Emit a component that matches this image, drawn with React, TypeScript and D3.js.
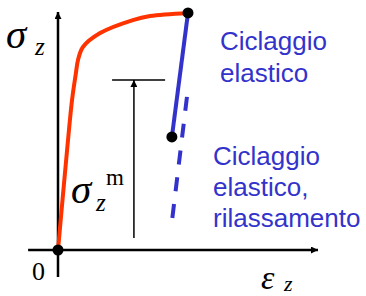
import { curveCatmullRom, line, scaleLinear, select } from 'd3';
import React, { useEffect, useRef } from 'react';

// strain (x) / stress (y) values
const loadStrain = [0, 0.35, 0.54, 0.69, 0.77, 0.96, 1.62, 2.88, 3.54, 5.0];
const loadStress = [0, 41.7, 62.5, 73.8, 79.2, 84.6, 90.4, 95.8, 97.5, 98.8];

const unloadStrain = [5.0, 4.38];
const unloadStress = [98.8, 47.1];

const relaxStrain = [4.96, 4.38];
const relaxStress = [63.8, 11.7];

const meanStress = 70.8;
const meanBar = [2.08, 4.12];
const meanArrowX = 2.92;
const meanArrowBottom = 5.0;

const xAxisExtent = [-1.15, 10];
const yAxisExtent = [-11.2, 99.2];

const label1 = ['Ciclaggio', 'elastico'];
const label2 = ['Ciclaggio', 'elastico,', 'rilassamento'];

const RED = '#ff3300';
const BLUE = '#3333cc';

const App: React.FC = () => {
  const svgRef = useRef<SVGSVGElement>(null);

  useEffect(() => {
    const svg = select(svgRef.current);
    svg.selectAll('*').remove();

    const x = scaleLinear().domain([0, 10]).range([58, 318]);
    const y = scaleLinear().domain([0, 100]).range([250, 10]);

    const zip = (xs: number[], ys: number[]) => xs.map((v, i) => [v, ys[i]] as [number, number]);
    const path = line<[number, number]>()
      .x((d) => x(d[0]))
      .y((d) => y(d[1]));

    // arrow marker
    svg
      .append('defs')
      .append('marker')
      .attr('id', 'arr')
      .attr('viewBox', '0 0 10 10')
      .attr('refX', 10)
      .attr('refY', 5)
      .attr('markerUnits', 'userSpaceOnUse')
      .attr('markerWidth', 9)
      .attr('markerHeight', 7)
      .attr('orient', 'auto')
      .append('path')
      .attr('d', 'M0,0L10,5L0,10z')
      .attr('fill', 'black');

    // axes
    svg
      .append('line')
      .attr('x1', x(xAxisExtent[0]))
      .attr('x2', x(xAxisExtent[1]))
      .attr('y1', y(0))
      .attr('y2', y(0))
      .attr('stroke', 'black')
      .attr('stroke-width', 2.5)
      .attr('marker-end', 'url(#arr)');
    svg
      .append('line')
      .attr('x1', x(0))
      .attr('x2', x(0))
      .attr('y1', y(yAxisExtent[0]))
      .attr('y2', y(yAxisExtent[1]))
      .attr('stroke', 'black')
      .attr('stroke-width', 2.5)
      .attr('marker-end', 'url(#arr)');

    // mean stress annotation
    svg
      .append('line')
      .attr('x1', x(meanBar[0]))
      .attr('x2', x(meanBar[1]))
      .attr('y1', y(meanStress))
      .attr('y2', y(meanStress))
      .attr('stroke', 'black')
      .attr('stroke-width', 1.5);
    svg
      .append('line')
      .attr('x1', x(meanArrowX))
      .attr('x2', x(meanArrowX))
      .attr('y1', y(meanArrowBottom))
      .attr('y2', y(meanStress))
      .attr('stroke', 'black')
      .attr('stroke-width', 1.5)
      .attr('marker-end', 'url(#arr)');

    // curves
    svg
      .append('path')
      .attr('d', path.curve(curveCatmullRom.alpha(0.5))(zip(loadStrain, loadStress)))
      .attr('fill', 'none')
      .attr('stroke', RED)
      .attr('stroke-width', 4);
    const straight = line<[number, number]>()
      .x((d) => x(d[0]))
      .y((d) => y(d[1]));
    svg
      .append('path')
      .attr('d', straight(zip(unloadStrain, unloadStress)))
      .attr('fill', 'none')
      .attr('stroke', BLUE)
      .attr('stroke-width', 4);
    svg
      .append('path')
      .attr('d', straight(zip(relaxStrain, relaxStress)))
      .attr('fill', 'none')
      .attr('stroke', BLUE)
      .attr('stroke-width', 4)
      .attr('stroke-dasharray', '14,13');

    // dots
    const dots = [
      [0, 0],
      [unloadStrain[0], unloadStress[0]],
      [unloadStrain[1], unloadStress[1]],
    ];
    svg
      .selectAll('.dot')
      .data(dots)
      .join('circle')
      .attr('class', 'dot')
      .attr('cx', (d) => x(d[0]))
      .attr('cy', (d) => y(d[1]))
      .attr('r', 5.5)
      .attr('fill', 'black');

    // math labels
    const serif = '"Liberation Serif", serif';
    const t = (
      tx: number,
      ty: number,
      s: string,
      size: number,
      italic = true,
    ) =>
      svg
        .append('text')
        .attr('x', tx)
        .attr('y', ty)
        .attr('font-family', serif)
        .attr('font-style', italic ? 'italic' : 'normal')
        .attr('font-size', size)
        .text(s);

    t(6, 48, 'σ', 41);
    t(35, 55, 'z', 25);
    t(71, 203, 'σ', 41);
    t(96, 211, 'z', 25);
    t(106, 185, 'm', 23, false);
    t(32, 280, '0', 26, false);
    t(261, 289, 'ε', 34);
    t(284, 291, 'z', 22);

    // blue notes
    const note = (lines: string[], tx: number, ty: number, lh: number) =>
      svg
        .append('text')
        .attr('font-family', '"Liberation Sans", Arial, sans-serif')
        .attr('font-size', 26)
        .attr('fill', BLUE)
        .selectAll('tspan')
        .data(lines)
        .join('tspan')
        .attr('x', tx)
        .attr('y', (d, i) => ty + i * lh)
        .text((d) => d);

    note(label1, 220, 50, 32);
    note(label2, 213, 165, 31);
  }, []);

  return (
    <svg
      ref={svgRef}
      width={366}
      height={296}
      style={{ position: 'absolute', left: 0, top: 0, background: 'white' }}
    />
  );
};

export default App;
